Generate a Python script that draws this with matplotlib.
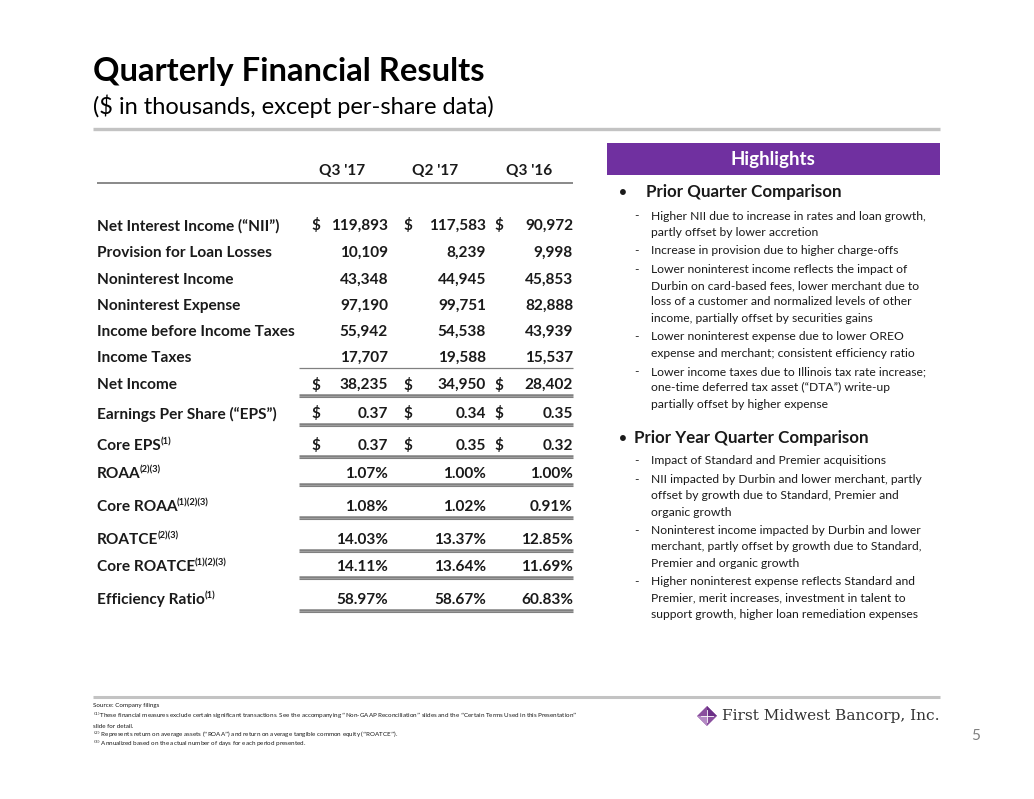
import matplotlib
matplotlib.use("Agg")
import matplotlib.pyplot as plt
from matplotlib.patches import Rectangle, Polygon

# ---------------- data ----------------
quarters = ["Q3 '17", "Q2 '17", "Q3 '16"]
metrics = ["Net Interest Income (\u201cNII\u201d)", "Provision for Loan Losses", "Noninterest Income",
           "Noninterest Expense", "Income before Income Taxes", "Income Taxes", "Net Income",
           "Earnings Per Share (\u201cEPS\u201d)", "Core EPS", "ROAA", "Core ROAA", "ROATCE",
           "Core ROATCE", "Efficiency Ratio"]
metric_notes = ["", "", "", "", "", "", "", "", "(1)", "(2)(3)", "(1)(2)(3)", "(2)(3)", "(1)(2)(3)", "(1)"]
row_kind = ["usd", "num", "num", "num", "num", "num", "usd", "eps", "eps", "pct", "pct", "pct", "pct", "pct"]
q3_17 = [119893, 10109, 43348, 97190, 55942, 17707, 38235, 0.37, 0.37, 1.07, 1.08, 14.03, 14.11, 58.97]
q2_17 = [117583, 8239, 44945, 99751, 54538, 19588, 34950, 0.34, 0.35, 1.00, 1.02, 13.37, 13.64, 58.67]
q3_16 = [90972, 9998, 45853, 82888, 43939, 15537, 28402, 0.35, 0.32, 1.00, 0.91, 12.85, 11.69, 60.83]
# rule under each row: none / single / double
row_rule = ["", "", "", "", "", "single", "double", "double", "double", "double", "double", "double", "double", "double"]

prior_quarter = [
    ["Higher NII due to increase in rates and loan growth,", "partly offset by lower accretion"],
    ["Increase in provision due to higher charge-offs"],
    ["Lower noninterest income reflects the impact of", "Durbin on card-based fees, lower merchant due to",
     "loss of a customer and normalized levels of other", "income, partially offset by securities gains"],
    ["Lower noninterest expense due to lower OREO", "expense and merchant; consistent efficiency ratio"],
    ["Lower income taxes due to Illinois tax rate increase;", "one-time deferred tax asset (\u201cDTA\u201d) write-up",
     "partially offset by higher expense"],
]
prior_year = [
    ["Impact of Standard and Premier acquisitions"],
    ["NII impacted by Durbin and lower merchant, partly", "offset by growth due to Standard, Premier and",
     "organic growth"],
    ["Noninterest income impacted by Durbin and lower", "merchant, partly offset by growth due to Standard,",
     "Premier and organic growth"],
    ["Higher noninterest expense reflects Standard and", "Premier, merit increases, investment in talent to",
     "support growth, higher loan remediation expenses"],
]
footnotes = [
    "Source: Company filings",
    "$^{(1)}$These financial measures exclude certain significant transactions. See the accompanying \u201cNon-GAAP Reconciliation\u201d slides and the \u201cCertain Terms Used in this Presentation\u201d",
    "slide for detail.",
    "$^{(2)}$ Represents return on average assets (\u201cROAA\u201d) and return on average tangible common equity (\u201cROATCE\u201d).",
    "$^{(3)}$ Annualized based on the actual number of days for each period presented.",
]

# ---------------- layout ----------------
W, H = 1034, 799
fig = plt.figure(figsize=(W / 100, H / 100), dpi=100)
ax = fig.add_axes([0, 0, 1, 1])
ax.set_xlim(0, W)
ax.set_ylim(H, 0)
ax.axis("off")

FONT = "Lato"
DARK = "#1a1a1a"
PURPLE = "#7030a0"
GRAY_RULE = "#c3c3c3"
RULE = "#808080"

renderer = fig.canvas.get_renderer()


def text_with_sup(x, y, s, sup, size, weight="bold"):
    t = ax.text(x, y, s, fontsize=size, fontweight=weight, family=FONT, color=DARK,
                ha="left", va="center")
    if sup:
        bb = t.get_window_extent(renderer=renderer)
        x_end = ax.transData.inverted().transform((bb.x1, bb.y0))[0]
        ax.text(x_end - 0.5, y - 4, sup, fontsize=size * 0.6, fontweight=weight, family=FONT,
                color=DARK, ha="left", va="center")


# Title
ax.text(93, 71, "Quarterly Financial Results", fontsize=23.6, fontweight="bold", family=FONT,
        color="#000000", ha="left", va="center")
ax.text(93, 106, "($ in thousands, except per-share data)", fontsize=17, family=FONT,
        color="#000000", ha="left", va="center")
ax.plot([93, 940], [129, 129], color=GRAY_RULE, lw=2.4, solid_capstyle="butt")

# Table
col_center = [342, 435, 529]
col_right = [388, 486, 573]
col_dollar = [311, 403, 494]
row_y = [226, 253, 280, 306, 332, 358, 385, 414, 446, 474, 507, 540, 567, 600]
TS = 11.1

for c, q in zip(col_center, quarters):
    ax.text(c, 171, q, fontsize=TS, fontweight="bold", family=FONT, color=DARK, ha="center", va="center")
ax.plot([97, 573], [183, 183], color=RULE, lw=1.3, solid_capstyle="butt")

cols = [q3_17, q2_17, q3_16]
for i, (name, note, kind, rule) in enumerate(zip(metrics, metric_notes, row_kind, row_rule)):
    y = row_y[i]
    text_with_sup(97, y, name, note, TS)
    for j, series in enumerate(cols):
        v = series[i]
        if kind in ("usd", "num"):
            s = f"{v:,.0f}"
        elif kind == "eps":
            s = f"{v:.2f}"
        else:
            s = f"{v:.2f}%"
        ax.text(col_right[j], y, s, fontsize=TS, fontweight="bold", family=FONT, color=DARK,
                ha="right", va="center")
        if kind in ("usd", "eps"):
            ax.text(col_dollar[j], y, "$", fontsize=TS, fontweight="bold", family=FONT, color=DARK,
                    ha="left", va="center")
    if rule == "single":
        ax.plot([299, 573], [y + 10, y + 10], color=RULE, lw=0.9, solid_capstyle="butt")
    elif rule == "double":
        ax.plot([299, 573], [y + 9.5, y + 9.5], color=RULE, lw=1.8, solid_capstyle="butt")
        ax.plot([299, 573], [y + 12, y + 12], color=RULE, lw=0.8, solid_capstyle="butt")

# Highlights panel
ax.add_patch(Rectangle((607, 143), 333, 32, facecolor=PURPLE, edgecolor="none"))
ax.text(773, 159.5, "Highlights", fontsize=13.5, fontweight="bold", family=FONT, color="white",
        ha="center", va="center")

HS = 12.2
SS = 8.7
ax.text(619, 192, "\u2022", fontsize=HS * 0.8, fontweight="bold", family=FONT, color=DARK, ha="left", va="center")
ax.text(646, 192, "Prior Quarter Comparison", fontsize=HS, fontweight="bold", family=FONT, color=DARK,
        ha="left", va="center")


def sub_items(items, y0):
    y = y0
    for lines in items:
        ax.text(634, y, "-", fontsize=SS, family=FONT, color=DARK, ha="left", va="center")
        for ln in lines:
            ax.text(651, y, ln, fontsize=SS, family=FONT, color=DARK, ha="left", va="center")
            y += 16.3
        y += 2.2
    return y


sub_items(prior_quarter, 216)

ax.text(619, 438, "\u2022", fontsize=HS * 0.8, fontweight="bold", family=FONT, color=DARK, ha="left", va="center")
ax.text(634, 438, "Prior Year Quarter Comparison", fontsize=HS, fontweight="bold", family=FONT, color=DARK,
        ha="left", va="center")
sub_items(prior_year, 461)

# Footer
ax.plot([93, 940], [697, 697], color=GRAY_RULE, lw=2.2, solid_capstyle="butt")
fy = [706, 716, 726, 735, 744]
for y, s in zip(fy, footnotes):
    ax.text(93, y, s, fontsize=4.5, family=FONT, color=DARK, ha="left", va="center")

# Logo
cx, cy, r = 707, 716, 10
ax.add_patch(Polygon([[cx, cy - r], [cx + r, cy], [cx, cy + r], [cx - r, cy]], closed=True,
                     facecolor="#8a4f9e", edgecolor="none"))
ax.add_patch(Polygon([[cx, cy - r], [cx + r, cy], [cx, cy]], closed=True, facecolor="#6b2f86", edgecolor="none"))
ax.add_patch(Polygon([[cx - r, cy], [cx, cy + r], [cx, cy]], closed=True, facecolor="#b48ac4", edgecolor="none"))
ax.plot([cx - r * 0.6, cx + r * 0.6], [cy, cy], color="white", lw=0.6)
ax.plot([cx, cx], [cy - r * 0.6, cy + r * 0.6], color="white", lw=0.6)
ax.text(722, 716, "First Midwest Bancorp, Inc.", fontsize=11.1, family="DejaVu Serif", color="#333333",
        ha="left", va="center")

ax.text(976, 736, "5", fontsize=11, family=FONT, color="#7f7f7f", ha="center", va="center")

fig.savefig("out.png", dpi=100, facecolor="white")
